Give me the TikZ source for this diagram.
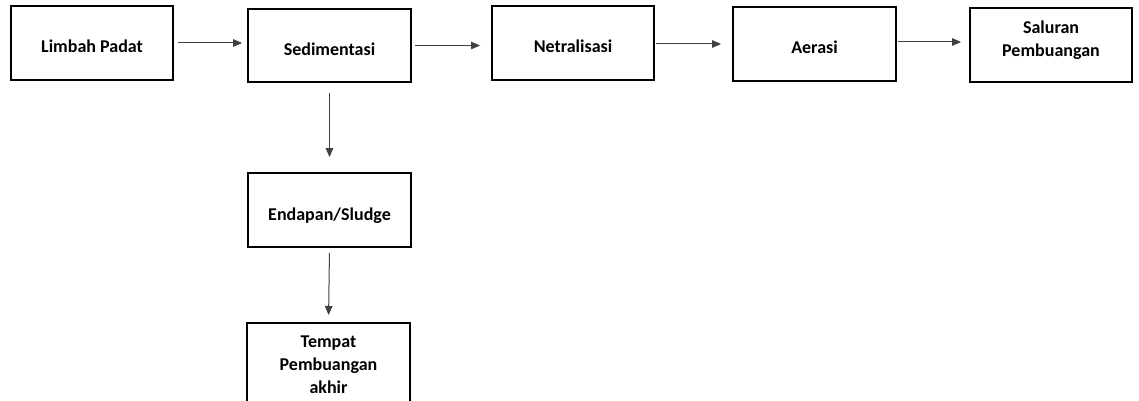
\documentclass[tikz,border=0pt]{standalone}
\usepackage{fontspec}
\setmainfont{Carlito}
\usetikzlibrary{arrows.meta}
\begin{document}
\begin{tikzpicture}[x=1pt,y=-1pt,
  box/.style={draw=black, line width=1.8pt, minimum width=162pt, minimum height=74pt,
    inner sep=0pt, text height=24pt, text depth=4pt,
    font=\fontsize{18}{23}\selectfont\bfseries},
  lbl/.style={inner sep=0pt, font=\fontsize{18}{23}\selectfont\bfseries, align=center},
  flow/.style={draw=black!75, line width=1pt, -{Triangle[length=9pt,width=7.5pt]}}]
  \clip (0,0) rectangle (1139,401);
  \fill[white] (0,0) rectangle (1139,401);

  % main line of treatment steps
  \node[box] (limbah) at (92,43) {Limbah Padat};
  \node[box, minimum width=163pt, minimum height=73pt] (sedimen) at (329.5,45.5) {Sedimentasi};
  \node[box] (netral) at (573,43) {Netralisasi};
  \node[box, minimum width=163pt] (aerasi) at (814.5,44) {Aerasi};
  \node[box] (saluran) at (1051,45) {};
  \node[lbl, anchor=north] (salurantxt) at ([yshift=-14pt]saluran.north) {Saluran\\Pembuangan};

  % sludge branch
  \node[box, minimum width=163pt, minimum height=74pt] (endapan) at (329.5,210) {Endapan/Sludge};
  \node[box, minimum width=163pt, minimum height=110pt, anchor=north] (tempat) at (328.5,322) {};
  \node[lbl, anchor=north] (tempattxt) at ([yshift=-14pt]tempat.north) {Tempat\\Pembuangan\\akhir};

  % connectors
  \draw[flow, shorten <=4pt, shorten >=5pt] (limbah.east) -- (sedimen.west |- limbah.east);
  \draw[flow, shorten <=3pt, shorten >=11pt] (sedimen.east) -- (netral.west |- sedimen.east);
  \draw[flow, shorten <=1pt, shorten >=11pt] ([yshift=-1pt]netral.east) -- ([yshift=-1pt]aerasi.west |- netral.east);
  \draw[flow, shorten <=1pt, shorten >=8pt] ([yshift=2pt]aerasi.east) -- ([yshift=2pt]saluran.west |- aerasi.east);
  \draw[flow, shorten <=10pt, shorten >=15pt] (sedimen.south) -- (endapan.north);
  \draw[flow, shorten <=5pt, shorten >=7pt] (endapan.south) -- (tempat.north);
\end{tikzpicture}
\end{document}
